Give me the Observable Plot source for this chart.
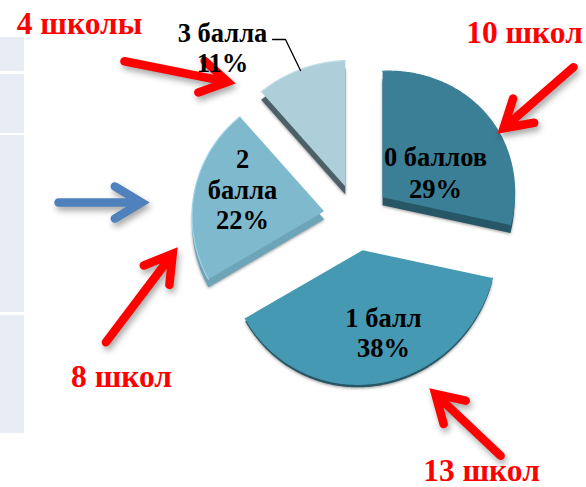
<!DOCTYPE html>
<html>
<head>
<meta charset="utf-8">
<script src="https://cdn.jsdelivr.net/npm/d3@7"></script>
<script src="https://cdn.jsdelivr.net/npm/@observablehq/plot@0.6"></script>
<style>
html,body{margin:0;padding:0;background:#fff;overflow:hidden}
svg{display:block}
.shadow-arrow{filter:drop-shadow(2px 4px 3px rgba(0,0,0,.35))}
.slice-side{filter:drop-shadow(0px 1px 1.5px rgba(0,0,0,.4))}
</style>
</head>
<body>
<div id="chart"></div>
<script>
// Data
const categories = ["0 баллов", "1 балл", "2 балла", "3 балла"];
const shares = [29, 38, 22, 11];
const faceColors = ["#3a7f96", "#4599b2", "#7fb9cd", "#aeceda"];
const sideColors = ["#275767", "#275767", "#6ea4b8", "#4c6068"];
const rimColors = ["#3a7f96", "#4599b2", "#a0d4e6", "#c0dfe9"];
const sideDepths = [8, 3, 8, 8];
const sliceRx = [132, 134, 132, 132];
const sliceNudgeX = [0, 2, 0, 0];

// Annotations
const sliceLabels = [
  {text: "3 балла", x: 222, y: 41}, {text: "11%", x: 222, y: 71},
  {text: "2", x: 242, y: 167}, {text: "балла", x: 242, y: 198}, {text: "22%", x: 242, y: 228},
  {text: "0 баллов", x: 435, y: 165}, {text: "29%", x: 435, y: 197},
  {text: "1 балл", x: 383, y: 326}, {text: "38%", x: 383, y: 356}
];
const schoolLabels = [
  {text: "4 школы", x: 79, y: 33},
  {text: "10 школ", x: 524, y: 42},
  {text: "8 школ", x: 121, y: 386},
  {text: "13 школ", x: 481, y: 480}
];
const redArrows = [
  {x1: 120, y1: 60, x2: 235, y2: 83},
  {x1: 576, y1: 64, x2: 497, y2: 133},
  {x1: 103, y1: 345, x2: 177, y2: 247},
  {x1: 503, y1: 458, x2: 429, y2: 388}
];
const blueArrows = [{x1: 54, y1: 202, x2: 149, y2: 202}];
const leader = [{x: 272, y: 39}, {x: 285, y: 39}, {x: 300, y: 70}];
const tableRows = [
  {y1: 37, y2: 71}, {y1: 74, y2: 133}, {y1: 135, y2: 312}, {y1: 315, y2: 433}
];

// Pie geometry
const center = [356, 217], explode = 33;
const arcs = d3.pie().sort(null).startAngle(0).endAngle(2 * Math.PI)(shares);
function project(apex, t, rx) {
  const ry = 130 - 4 * Math.cos(t);
  return {x: apex[0] + rx * Math.sin(t), y: apex[1] - ry * Math.cos(t) - 5 * Math.sin(t)};
}
function arcPoints(a, apex, rx) {
  const n = Math.ceil((a.endAngle - a.startAngle) * 90);
  return d3.range(n + 1).map(i => project(apex, a.startAngle + (a.endAngle - a.startAngle) * i / n, rx));
}
const sliceMarks = arcs.flatMap((a, i) => {
  const mid = (a.startAngle + a.endAngle) / 2;
  const apex = [center[0] + explode * Math.sin(mid) + sliceNudgeX[i], center[1] - explode * Math.cos(mid)];
  const arc = arcPoints(a, apex, sliceRx[i]);
  const face = [{x: apex[0], y: apex[1]}, ...arc, {x: apex[0], y: apex[1]}];
  const d = sideDepths[i];
  const side = face.map(p => ({x: p.x, y: p.y + d}));
  return [
    Plot.line(side, {x: "x", y: "y", fill: sideColors[i], stroke: "none", className: "slice-side"}),
    Plot.line(face, {x: "x", y: "y", fill: faceColors[i], stroke: "none"}),
    Plot.line(arc, {x: "x", y: "y", stroke: rimColors[i], strokeWidth: 1.2})
  ];
});

const arrowOpts = {x1: "x1", y1: "y1", x2: "x2", y2: "y2", strokeWidth: 8.5, headLength: 5.5, headAngle: 62, insetEnd: 8, insetStart: 4,
  strokeLinejoin: "miter", strokeMiterlimit: 8, strokeLinecap: "round", className: "shadow-arrow"};

const chart = Plot.plot({
  width: 586, height: 487, margin: 0,
  x: {domain: [0, 586], range: [0, 586], axis: null},
  y: {domain: [0, 487], range: [0, 487], axis: null},
  style: {background: "#fff", overflow: "hidden"},
  marks: [
    Plot.rect(tableRows, {x1: 0, x2: 24, y1: "y1", y2: "y2", fill: "#e8edf5"}),
    ...sliceMarks,
    Plot.line(leader, {x: "x", y: "y", stroke: "#000", strokeWidth: 1.3}),
    Plot.arrow(redArrows, {...arrowOpts, stroke: "#ff0000"}),
    Plot.arrow(blueArrows, {...arrowOpts, stroke: "#4f81bd"}),
    Plot.text(sliceLabels, {x: "x", y: "y", text: "text", lineAnchor: "bottom", fontFamily: "Liberation Serif", fontWeight: "bold", fontSize: 26.5, fill: "#000"}),
    Plot.text(schoolLabels, {x: "x", y: "y", text: "text", lineAnchor: "bottom", fontFamily: "Liberation Serif", fontWeight: "bold", fontSize: 31.5, fill: "#ff0000"})
  ]
});
document.getElementById("chart").appendChild(chart);
</script>
</body>
</html>
